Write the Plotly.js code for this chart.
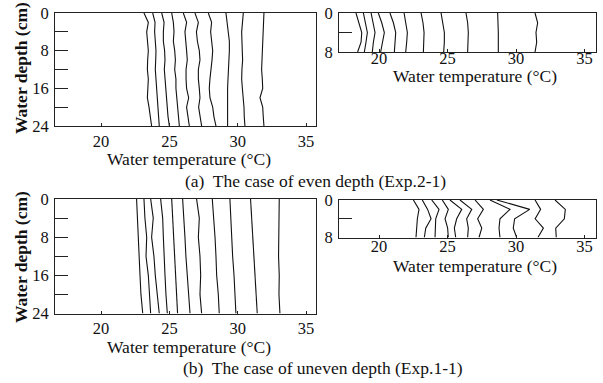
<!DOCTYPE html>
<html>
<head>
<meta charset="utf-8">
<script src="https://cdn.plot.ly/plotly-3.0.1.min.js"></script>
<style>html,body{margin:0;padding:0;background:#fff;}#chart{width:603px;height:383px;}</style>
</head>
<body>
<div id="chart"></div>
<script>
// ---- Data (water temperature profiles, °C, vs depth, cm) ----
// (a) even depth, long channel section (left)
const depthEvenLeft = [0, 2, 4, 6, 8, 10, 12, 14, 16, 18, 20, 22, 24];
const tempsEvenLeft = [
  [23.14, 23.46, 23.34, 23.39, 23.46, 23.41, 23.39, 23.46, 23.41, 23.39, 23.51, 23.58, 23.70],
  [23.78, 23.95, 23.92, 23.97, 24.02, 24.00, 23.97, 24.02, 24.07, 24.12, 24.17, 24.19, 24.26],
  [24.44, 24.61, 24.56, 24.56, 24.65, 24.68, 24.63, 24.68, 24.73, 24.78, 24.80, 24.90, 25.00],
  [25.17, 25.29, 25.34, 25.29, 25.39, 25.44, 25.39, 25.48, 25.48, 25.53, 25.63, 25.66, 25.73],
  [26.02, 26.26, 26.14, 26.22, 26.26, 26.31, 26.22, 26.22, 26.26, 26.41, 26.26, 26.36, 26.46],
  [26.87, 27.12, 26.98, 27.05, 27.19, 27.24, 27.12, 27.12, 27.19, 27.24, 27.14, 27.24, 27.36],
  [27.85, 28.09, 28.02, 28.07, 28.17, 28.12, 28.02, 27.97, 27.92, 27.97, 28.17, 28.26, 28.41],
  [29.14, 29.24, 29.31, 29.39, 29.39, 29.34, 29.31, 29.29, 29.26, 29.26, 29.26, 29.26, 29.26],
  [30.41, 30.36, 30.29, 30.31, 30.36, 30.36, 30.31, 30.29, 30.34, 30.41, 30.46, 30.48, 30.53],
  [31.92, 31.90, 31.87, 31.85, 31.83, 31.78, 31.75, 31.80, 31.83, 31.63, 31.83, 31.87, 31.92]
];
// (a) even depth, shallow section (right)
const depthEvenRight = [0, 2, 4, 6, 8];
const tempsEvenRight = [
  [18.32, 18.54, 18.74, 18.69, 18.44],
  [18.86, 19.03, 19.15, 19.05, 18.93],
  [19.42, 19.59, 19.71, 19.59, 19.51],
  [19.95, 20.20, 20.39, 20.24, 20.12],
  [20.80, 21.05, 21.22, 21.17, 21.12],
  [21.83, 21.97, 22.07, 22.02, 21.95],
  [23.07, 23.21, 23.29, 23.24, 23.24],
  [24.53, 24.67, 24.77, 24.77, 24.72],
  [26.35, 26.47, 26.52, 26.52, 26.47],
  [28.66, 28.71, 28.71, 28.71, 28.71],
  [31.39, 31.58, 31.46, 31.51, 31.39]
];
// (b) uneven depth, deep section (left)
const depthUnevenLeft = [0, 4, 8, 12, 16, 20, 24];
const tempsUnevenLeft = [
  [22.60, 22.65, 22.75, 22.80, 22.85, 22.92, 23.05],
  [23.14, 23.21, 23.34, 23.29, 23.46, 23.53, 23.63],
  [23.63, 23.82, 23.70, 23.87, 23.97, 24.12, 24.26],
  [24.36, 24.51, 24.56, 24.60, 24.68, 24.75, 24.85],
  [25.17, 25.24, 25.29, 25.41, 25.48, 25.53, 25.60],
  [25.97, 26.07, 26.14, 26.21, 26.31, 26.46, 26.51],
  [26.99, 27.19, 27.12, 27.24, 27.29, 27.24, 27.36],
  [28.14, 28.26, 28.34, 28.41, 28.46, 28.58, 28.65],
  [29.43, 29.48, 29.56, 29.63, 29.73, 29.80, 29.87],
  [30.94, 31.02, 31.09, 31.19, 31.26, 31.34, 31.43],
  [33.04, 33.02, 32.97, 32.99, 33.04, 33.02, 33.09]
];
// (b) uneven depth, shallow section (right)
const depthUnevenRight = [0, 2, 4, 6, 8];
const tempsUnevenRight = [
  [22.51, 22.92, 22.80, 22.73, 22.70],
  [23.16, 23.55, 23.80, 23.41, 23.31],
  [23.85, 24.38, 24.14, 24.09, 24.09],
  [24.62, 25.06, 24.82, 25.01, 25.06],
  [25.18, 26.04, 25.67, 25.50, 25.60],
  [25.91, 26.77, 26.40, 26.52, 26.47],
  [27.01, 27.62, 27.20, 27.50, 27.30],
  [28.10, 29.56, 28.83, 28.76, 28.83],
  [28.60, 31.00, 29.90, 29.80, 30.05],
  [31.39, 31.80, 31.40, 32.00, 31.60],
  [32.85, 33.60, 33.53, 32.90, 32.94]
];
const xTickVals = [20, 25, 30, 35];
const yTickValsDeep = [0, 4, 8, 12, 16, 20, 24];
const yTickTextDeep = ['0', '', '8', '', '16', '', '24'];
const yTickValsShallow = [0, 4, 8];
const yTickTextShallow = ['0', '', '8'];
const xTitle = 'Water temperature (°C)';
const yTitle = 'Water depth (cm)';
const captionA = '(a)  The case of even depth (Exp.2-1)';
const captionB = '(b)  The case of uneven depth (Exp.1-1)';

// ---- Build traces ----
const W = 603, H = 383;
const traces = [];
function addPanel(depths, profiles, xa, ya) {
  profiles.forEach(p => traces.push({
    type: 'scatter', mode: 'lines', x: p, y: depths, xaxis: xa, yaxis: ya,
    line: {color: '#111', width: 1.1}, hoverinfo: 'skip', showlegend: false
  }));
}
addPanel(depthEvenLeft, tempsEvenLeft, 'x', 'y');
addPanel(depthEvenRight, tempsEvenRight, 'x2', 'y2');
addPanel(depthUnevenLeft, tempsUnevenLeft, 'x3', 'y3');
addPanel(depthUnevenRight, tempsUnevenRight, 'x4', 'y4');

const FONT = 'Liberation Serif';
const px = v => v / W, py = v => 1 - v / H;
function xax(l, r, range, anchor, standoff) {
  return {domain: [px(l), px(r)], range: range, anchor: anchor,
    showline: true, mirror: true, linecolor: '#222', linewidth: 1,
    ticks: 'inside', ticklen: 3, tickcolor: '#222', tickvals: xTickVals,
    showgrid: false, zeroline: false, ticklabelstandoff: standoff,
    tickfont: {family: FONT, size: 16.5, color: '#111'}};
}
function yax(t, b, deep, anchor) {
  return {domain: [py(b), py(t)], range: deep ? [24, 0] : [8, 0], anchor: anchor,
    showline: true, mirror: true, linecolor: '#222', linewidth: 1,
    ticks: 'inside', ticklen: 13, tickcolor: '#222',
    tickvals: deep ? yTickValsDeep : yTickValsShallow,
    ticktext: deep ? yTickTextDeep : yTickTextShallow,
    showgrid: false, zeroline: false, ticklabelstandoff: 2,
    tickfont: {family: FONT, size: 16.5, color: '#111'}};
}
const ann = (x, y, text, opts) => Object.assign({
  xref: 'paper', yref: 'paper', x: px(x), y: py(y), text: text, showarrow: false,
  xanchor: 'center', yanchor: 'middle', font: {family: FONT, size: 17.5, color: '#111'}
}, opts || {});

const layout = {
  width: W, height: H, margin: {l: 0, r: 0, t: 0, b: 0},
  paper_bgcolor: '#fff', plot_bgcolor: '#fff', showlegend: false,
  font: {family: FONT},
  xaxis: xax(55, 316, [16.63, 35.73], 'y', 0),
  yaxis: yax(13, 126, true, 'x'),
  xaxis2: xax(339, 596, [17.08, 35.84], 'y2', -9),
  yaxis2: yax(13, 52, false, 'x2'),
  xaxis3: xax(55, 316, [16.63, 35.73], 'y3', 0),
  yaxis3: yax(199, 313.5, true, 'x3'),
  xaxis4: xax(339, 596, [17.08, 35.84], 'y4', -6),
  yaxis4: yax(200, 237.5, false, 'x4'),
  annotations: [
    ann(189, 158.5, xTitle),
    ann(475, 76, xTitle),
    ann(189, 346.5, xTitle),
    ann(475, 266, xTitle),
    ann(21, 68, '<b>' + yTitle + '</b>', {textangle: -90}),
    ann(21, 257, '<b>' + yTitle + '</b>', {textangle: -90}),
    ann(316, 181, captionA),
    ann(323, 368, captionB)
  ]
};
Plotly.newPlot('chart', traces, layout, {staticPlot: true, displayModeBar: false});
</script>
</body>
</html>
